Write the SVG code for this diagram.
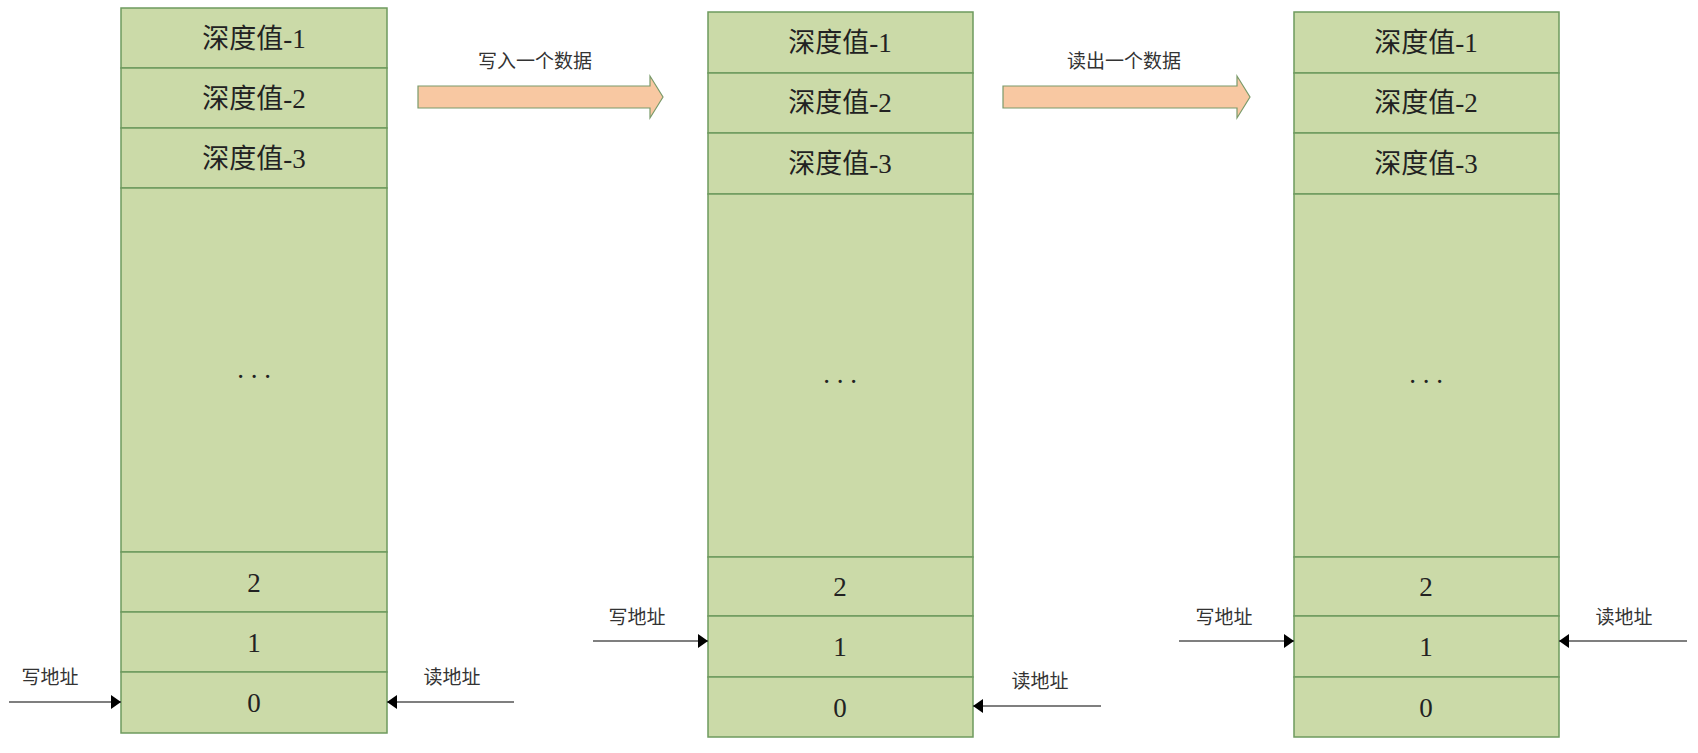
<svg xmlns="http://www.w3.org/2000/svg" width="1698" height="753" viewBox="0 0 1698 753">
<defs>
<style>
.c{fill:#cbdaa8;stroke:#6e9a5e;stroke-width:1.5}
.t{font-family:"Liberation Serif","Noto Sans CJK SC",serif;font-size:27px;fill:#222;text-anchor:middle}
.l{font-family:"Noto Sans CJK SC",sans-serif;font-size:19px;fill:#333;text-anchor:middle}
.p{stroke:#555;stroke-width:1.5;fill:none}
.b{fill:#f8c8a2;stroke:#7a9a6a;stroke-width:1.2}
</style>
<marker id="a" markerWidth="10" markerHeight="14" refX="10" refY="7" orient="auto" markerUnits="userSpaceOnUse"><path d="M0,0 L10,7 L0,14z" fill="#000"/></marker>
</defs>
<rect width="1698" height="753" fill="#fff"/>
<g id="col1">
<rect class="c" x="121" y="8" width="266" height="60"/><rect class="c" x="121" y="68" width="266" height="60"/><rect class="c" x="121" y="128" width="266" height="60"/><rect class="c" x="121" y="188" width="266" height="364"/><rect class="c" x="121" y="552" width="266" height="60"/><rect class="c" x="121" y="612" width="266" height="60"/><rect class="c" x="121" y="672" width="266" height="61"/>
<text class="t" x="254" y="48">深度值-1</text><text class="t" x="254" y="108">深度值-2</text><text class="t" x="254" y="168">深度值-3</text><text class="t" x="254" y="378">. . .</text><text class="t" x="254" y="592">2</text><text class="t" x="254" y="652">1</text><text class="t" x="254" y="712">0</text>
</g>
<g id="col2">
<rect class="c" x="708" y="12" width="265" height="61"/><rect class="c" x="708" y="73" width="265" height="60"/><rect class="c" x="708" y="133" width="265" height="61"/><rect class="c" x="708" y="194" width="265" height="363"/><rect class="c" x="708" y="557" width="265" height="59"/><rect class="c" x="708" y="616" width="265" height="61"/><rect class="c" x="708" y="677" width="265" height="60"/>
<text class="t" x="840" y="52">深度值-1</text><text class="t" x="840" y="112">深度值-2</text><text class="t" x="840" y="173">深度值-3</text><text class="t" x="840" y="383">. . .</text><text class="t" x="840" y="596">2</text><text class="t" x="840" y="656">1</text><text class="t" x="840" y="717">0</text>
</g>
<g id="col3">
<rect class="c" x="1294" y="12" width="265" height="61"/><rect class="c" x="1294" y="73" width="265" height="60"/><rect class="c" x="1294" y="133" width="265" height="61"/><rect class="c" x="1294" y="194" width="265" height="363"/><rect class="c" x="1294" y="557" width="265" height="59"/><rect class="c" x="1294" y="616" width="265" height="61"/><rect class="c" x="1294" y="677" width="265" height="60"/>
<text class="t" x="1426" y="52">深度值-1</text><text class="t" x="1426" y="112">深度值-2</text><text class="t" x="1426" y="173">深度值-3</text><text class="t" x="1426" y="383">. . .</text><text class="t" x="1426" y="596">2</text><text class="t" x="1426" y="656">1</text><text class="t" x="1426" y="717">0</text>
</g>
<g id="step1"><path class="b" d="M418,86 H650 V76 L663,97 L650,118 V108 H418 Z"/><text class="l" x="535" y="68">写入一个数据</text></g>
<g id="step2"><path class="b" d="M1003,86 H1237 V76 L1250,97 L1237,118 V108 H1003 Z"/><text class="l" x="1124" y="68">读出一个数据</text></g>
<g id="connectors">
<line class="p" x1="9" y1="702" x2="121" y2="702" marker-end="url(#a)"/>
<line class="p" x1="514" y1="702" x2="387" y2="702" marker-end="url(#a)"/>
<line class="p" x1="593" y1="641" x2="708" y2="641" marker-end="url(#a)"/>
<line class="p" x1="1101" y1="706" x2="973" y2="706" marker-end="url(#a)"/>
<line class="p" x1="1179" y1="641" x2="1294" y2="641" marker-end="url(#a)"/>
<line class="p" x1="1687" y1="641" x2="1559" y2="641" marker-end="url(#a)"/>
</g>
<g id="labels">
<text class="l" x="50" y="684">写地址</text><text class="l" x="452" y="684">读地址</text>
<text class="l" x="637" y="624">写地址</text><text class="l" x="1040" y="688">读地址</text>
<text class="l" x="1224" y="624">写地址</text><text class="l" x="1624" y="624">读地址</text>
</g>
</svg>
